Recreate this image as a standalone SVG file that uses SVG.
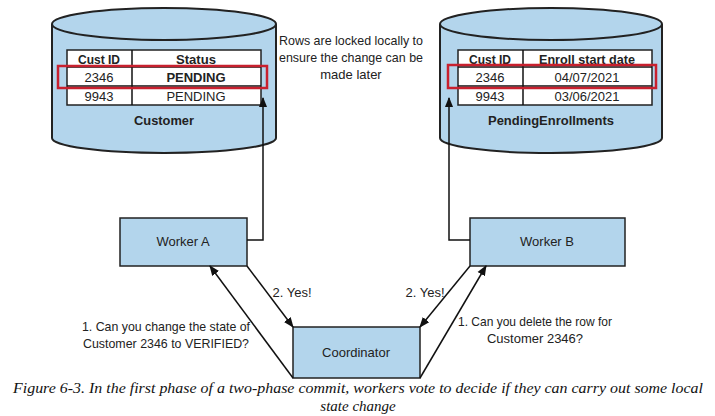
<svg xmlns="http://www.w3.org/2000/svg" width="715" height="416" viewBox="0 0 715 416">
<style>
.db{fill:#b3d5ec;stroke:#222;stroke-width:2}
.box{fill:#b3d5ec;stroke:#222;stroke-width:1.5}
.t{font-family:"Liberation Sans",sans-serif;font-size:13px;fill:#222;text-anchor:middle}
.b{font-weight:bold}
.tb{fill:#fff;stroke:#222;stroke-width:1.5}
.red{fill:none;stroke:#c8202e;stroke-width:2.5}
.ln{fill:none;stroke:#111;stroke-width:1.5}
.cap{font-family:"Liberation Serif",serif;font-style:italic;font-size:15px;fill:#111;text-anchor:middle}
</style>
<defs><marker id="ah" viewBox="0 0 10 10" refX="9" refY="5" markerWidth="7" markerHeight="7" orient="auto"><path d="M0,1 L10,5 L0,9 z" fill="#111"/></marker></defs>
<g id="customer">
<path class="db" d="M52,24 V138 A112,15 0 0 0 276,138 V24"/>
<ellipse class="db" cx="164" cy="24" rx="112" ry="16"/>
<rect class="tb" x="67" y="50" width="194" height="55"/>
<line class="ln" x1="67" y1="67" x2="261" y2="67"/><line class="ln" x1="67" y1="86" x2="261" y2="86"/><line class="ln" x1="132" y1="50" x2="132" y2="105"/>
<text class="t b" x="99" y="64" textLength="42" lengthAdjust="spacingAndGlyphs">Cust ID</text>
<text class="t b" x="196" y="64" textLength="40" lengthAdjust="spacingAndGlyphs">Status</text>
<text class="t" x="99" y="82">2346</text><text class="t b" x="196" y="82">PENDING</text>
<text class="t" x="99" y="101">9943</text><text class="t" x="196" y="101">PENDING</text>
<rect class="red" x="58" y="66" width="209" height="22"/>
<text class="t b" x="164" y="125" textLength="60" lengthAdjust="spacingAndGlyphs">Customer</text>
</g>
<g id="pending">
<path class="db" d="M440,24 V138 A111,15 0 0 0 662,138 V24"/>
<ellipse class="db" cx="551" cy="24" rx="111" ry="16"/>
<rect class="tb" x="458" y="50" width="194" height="55"/>
<line class="ln" x1="458" y1="67" x2="652" y2="67"/><line class="ln" x1="458" y1="86" x2="652" y2="86"/><line class="ln" x1="523" y1="50" x2="523" y2="105"/>
<text class="t b" x="490" y="64" textLength="42" lengthAdjust="spacingAndGlyphs">Cust ID</text>
<text class="t b" x="587" y="64" textLength="96" lengthAdjust="spacingAndGlyphs">Enroll start date</text>
<text class="t" x="490" y="82">2346</text><text class="t" x="587" y="82">04/07/2021</text>
<text class="t" x="490" y="101">9943</text><text class="t" x="587" y="101">03/06/2021</text>
<rect class="red" x="448" y="65" width="208" height="23"/>
<text class="t b" x="551" y="125" textLength="126" lengthAdjust="spacingAndGlyphs">PendingEnrollments</text>
</g>
<g id="note">
<text class="t" x="351" y="45" textLength="144" lengthAdjust="spacingAndGlyphs">Rows are locked locally to</text>
<text class="t" x="351" y="62" textLength="144" lengthAdjust="spacingAndGlyphs">ensure the change can be</text>
<text class="t" x="351" y="79">made later</text>
</g>
<g id="workerA"><rect class="box" x="120" y="218" width="127" height="48"/><text class="t" x="183" y="246">Worker A</text></g>
<g id="workerB"><rect class="box" x="470" y="218" width="155" height="48"/><text class="t" x="547" y="246">Worker B</text></g>
<g id="coordinator"><rect class="box" x="293" y="327" width="127" height="51"/><text class="t" x="356" y="357">Coordinator</text></g>
<g id="connectors">
<path class="ln" d="M247,240 H263 V98" marker-end="url(#ah)"/>
<path class="ln" d="M470,240 H449 V98" marker-end="url(#ah)"/>
<path class="ln" d="M293,378 L210,266" marker-end="url(#ah)"/>
<path class="ln" d="M247,266 L293,327" marker-end="url(#ah)"/>
<path class="ln" d="M470,266 L420,327" marker-end="url(#ah)"/>
<path class="ln" d="M420,378 L486,266" marker-end="url(#ah)"/>
</g>
<g id="labels">
<text class="t" x="292" y="297">2. Yes!</text>
<text class="t" x="425" y="297">2. Yes!</text>
<text class="t" x="166" y="331" textLength="168" lengthAdjust="spacingAndGlyphs">1. Can you change the state of</text>
<text class="t" x="166" y="348" textLength="166" lengthAdjust="spacingAndGlyphs">Customer 2346 to VERIFIED?</text>
<text class="t" x="535" y="326" textLength="154" lengthAdjust="spacingAndGlyphs">1. Can you delete the row for</text>
<text class="t" x="535" y="343">Customer 2346?</text>
</g>
<text class="cap" x="358" y="393" textLength="690" lengthAdjust="spacingAndGlyphs">Figure 6-3. In the first phase of a two-phase commit, workers vote to decide if they can carry out some local</text>
<text class="cap" x="358" y="411">state change</text>
</svg>
